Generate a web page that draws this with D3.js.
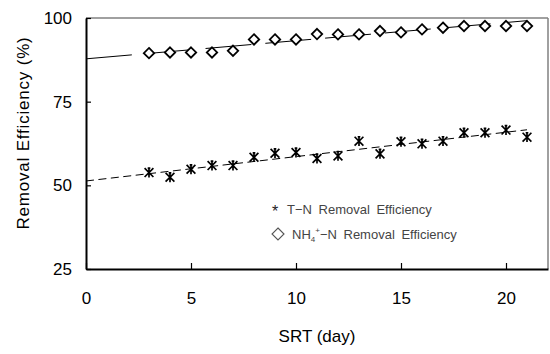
<!DOCTYPE html>
<html>
<head>
<meta charset="utf-8">
<script src="https://cdn.jsdelivr.net/npm/d3@7"></script>
<style>
  body { margin: 0; background: #fff; }
  svg { display: block; font-family: "Liberation Sans", Arial, sans-serif; }
</style>
</head>
<body>
<div id="chart"></div>
<script>
//Datos
const srt = [3,4,5,6,7,8,9,10,11,12,13,14,15,16,17,18,19,20,21];
const tnEff = [53.8,52.4,54.8,55.9,55.9,58.4,59.6,59.8,58.0,58.8,63.2,59.4,63.0,62.4,63.2,65.7,65.7,66.5,64.4];
const nh4Eff = [89.5,89.7,89.7,89.7,90.2,93.6,93.6,93.6,95.2,95.1,95.1,96.1,95.7,96.6,97.1,97.6,97.6,97.6,97.6];
//Lineas de tendencia (x inicio/fin, valores)
const trendX = [0, 21];
const tnTrend = [51.3, 66.6];
const nh4Trend = [87.8, 99.2];
const xTicks = [0,5,10,15,20];
const yTicks = [25,50,75,100];

let margin = {top: 18, right: 2, bottom: 85, left: 86},
    width = 550 - margin.left - margin.right,
    height = 354 - margin.top - margin.bottom;

let svg = d3.select("#chart")
    .append("svg")
      .attr("width", 550)
      .attr("height", 354)
    .append("g")
      .attr("transform", "translate(" + margin.left + "," + margin.top + ")");

let x = d3.scaleLinear().domain([0, 22]).range([0, width]);
let y = d3.scaleLinear().domain([25, 100]).range([height, 0]);

//Marco gris arriba y derecha
svg.append("line").attr("x1", 0).attr("x2", width).attr("y1", 0).attr("y2", 0)
    .attr("stroke", "#808080").attr("stroke-width", 1.5);
svg.append("line").attr("x1", width).attr("x2", width).attr("y1", 0).attr("y2", height)
    .attr("stroke", "#808080").attr("stroke-width", 1.5);

//Ejes
let xAxis = svg.append("g")
    .attr("transform", "translate(0," + height + ")")
    .call(d3.axisBottom(x).tickValues(xTicks).tickSizeInner(-6).tickSizeOuter(0).tickPadding(23));
xAxis.select(".domain").attr("stroke", "#000").attr("stroke-width", 2);
xAxis.selectAll(".tick line").attr("stroke", "#000").attr("stroke-width", 1.2);
xAxis.selectAll("text").attr("font-size", 17).attr("fill", "#000")
    .attr("font-family", "Liberation Sans, Arial, sans-serif");

let yAxis = svg.append("g")
    .call(d3.axisLeft(y).tickValues(yTicks).tickSizeInner(-5).tickSizeOuter(0).tickPadding(14));
yAxis.select(".domain").attr("stroke", "#000").attr("stroke-width", 2);
yAxis.selectAll(".tick line").attr("stroke", "#000").attr("stroke-width", 1.2);
yAxis.selectAll("text").attr("font-size", 17).attr("fill", "#000")
    .attr("font-family", "Liberation Sans, Arial, sans-serif");

//Titulos
svg.append("text")
    .attr("x", x(11))
    .attr("y", height + 73)
    .attr("text-anchor", "middle")
    .attr("font-size", 17)
    .text("SRT (day)");

svg.append("text")
    .attr("transform", "translate(" + (-57) + "," + (115) + ")rotate(-90)")
    .attr("text-anchor", "middle")
    .attr("font-size", 17)
    .attr("letter-spacing", 0.8)
    .text("Removal Efficiency (%)");

//Lineas de tendencia
let line = d3.line().x(function(d) { return x(d[0]); }).y(function(d) { return y(d[1]); });

svg.append("path")
    .datum(trendX.map(function(d, i) { return [d, nh4Trend[i]]; }))
    .attr("d", line)
    .attr("fill", "none")
    .attr("stroke", "#000")
    .attr("stroke-width", 1)
    .attr("stroke-dasharray", "46,14");

svg.append("path")
    .datum(trendX.map(function(d, i) { return [d, tnTrend[i]]; }))
    .attr("d", line)
    .attr("fill", "none")
    .attr("stroke", "#000")
    .attr("stroke-width", 1)
    .attr("stroke-dasharray", "8,4.5");

//Marcadores
function diamond(g, size) {
    return g.append("path")
        .attr("d", "M0," + (-size) + "L" + size + ",0L0," + size + "L" + (-size) + ",0Z");
}

function star(g, s) {
    g.append("path")
        .attr("d", "M" + (-s) + "," + (-s) + "L" + s + "," + s +
                   "M" + s + "," + (-s) + "L" + (-s) + "," + s +
                   "M0," + (-s - 0.5) + "L0," + (s + 0.5) +
                   "M" + (-s * 0.3) + "," + (-s) + "L" + (s * 0.3) + "," + (-s))
        .attr("fill", "none")
        .attr("stroke", "#000")
        .attr("stroke-width", 1.7);
}

svg.selectAll(".nh4")
    .data(srt)
    .enter()
    .append("g")
    .attr("class", "nh4")
    .attr("transform", function(d, i) { return "translate(" + x(d) + "," + y(nh4Eff[i]) + ")"; })
    .each(function() {
        diamond(d3.select(this), 5.2)
            .attr("fill", "#fff")
            .attr("stroke", "#000")
            .attr("stroke-width", 1.8);
    });

svg.selectAll(".tn")
    .data(srt)
    .enter()
    .append("g")
    .attr("class", "tn")
    .attr("transform", function(d, i) { return "translate(" + x(d) + "," + y(tnEff[i]) + ")"; })
    .each(function() {
        star(d3.select(this), 4.4);
    });

//Leyenda
let legend = svg.append("g").attr("transform", "translate(" + 189 + "," + 192 + ")");

legend.append("text")
    .attr("x", 0)
    .attr("y", 7)
    .attr("text-anchor", "middle")
    .attr("font-size", 16)
    .attr("fill", "#222")
    .text("*");

legend.append("text")
    .attr("x", 12)
    .attr("y", 4)
    .attr("font-size", 13)
    .attr("fill", "#444")
    .attr("word-spacing", 3)
    .text("T\u2212N Removal Efficiency");

diamond(legend.append("g").attr("transform", "translate(3,24)"), 6)
    .attr("fill", "none")
    .attr("stroke", "#555")
    .attr("stroke-width", 1.1);

let t2 = legend.append("text")
    .attr("x", 17)
    .attr("y", 29)
    .attr("font-size", 13)
    .attr("fill", "#444")
    .attr("word-spacing", 3);
t2.append("tspan").text("NH");
t2.append("tspan").attr("font-size", 8).attr("dy", 3).text("4");
t2.append("tspan").attr("font-size", 8).attr("dy", -9).text("+");
t2.append("tspan").attr("dy", 6).text("\u2212N Removal Efficiency");
</script>
</body>
</html>
